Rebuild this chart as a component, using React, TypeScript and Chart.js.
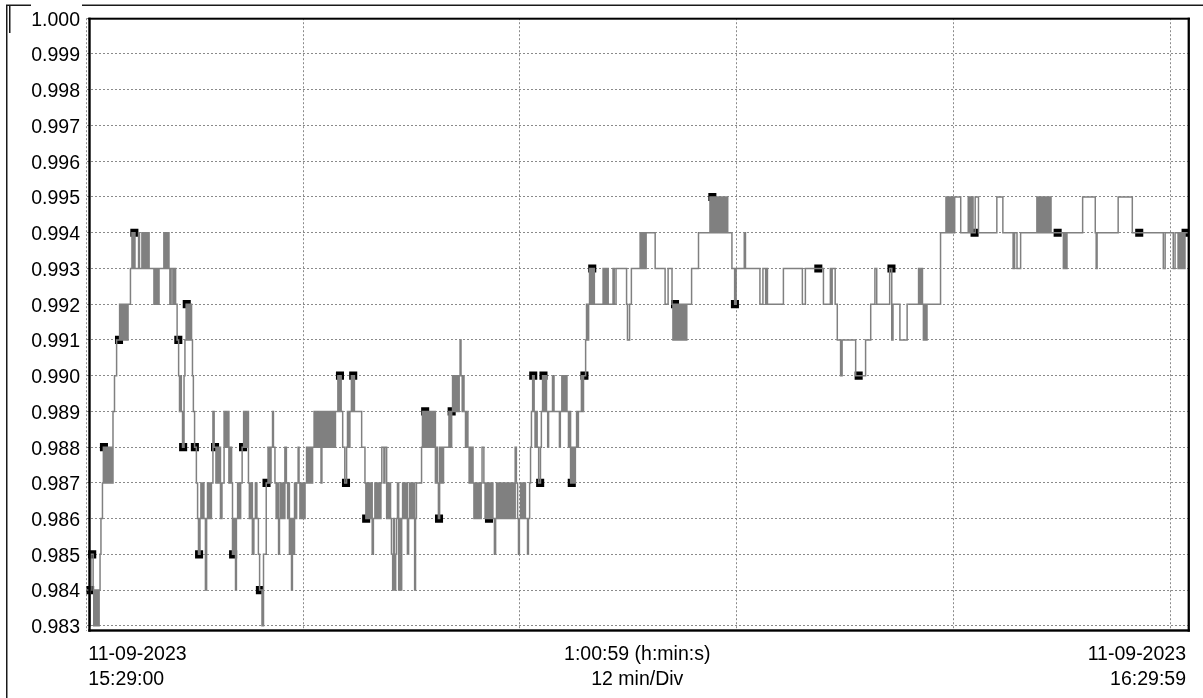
import React, { useEffect, useRef } from 'react';
import { Chart, registerables } from 'chart.js';

Chart.register(...registerables);

// seconds after 11-09-2023 15:29:00 at which the reading changes, and the new reading
const times = [
  0, 10, 12, 15, 22, 24, 27, 29, 32, 34, 37, 39, 42, 45, 48, 53, 56, 61, 65, 68, 73, 76, 81, 85, 88, 93, 100,
  110, 113, 116, 120, 123, 126, 130, 133, 138, 146, 151, 154, 158, 161, 173, 176, 184, 188, 191, 194, 198, 201, 204, 208,
  224, 228, 231, 234, 238, 241, 257, 261, 264, 267, 271, 274, 277, 281, 287, 291, 296, 301, 306, 309, 312, 315, 319,
  324, 327, 331, 334, 337, 341, 344, 349, 352, 355, 359, 365, 369, 372, 377, 380, 384, 387, 390, 395, 399,
  402, 405, 409, 412, 415, 420, 424, 430, 434, 437, 440, 445, 450, 457, 460, 463, 467, 470, 473, 478, 482, 485, 490, 495, 498,
  502, 507, 512, 517, 522, 525, 528, 532, 535, 538, 541, 546, 551, 556, 561, 566, 571, 575, 583, 588, 597,
  603, 608, 613, 618, 621, 626, 630, 633, 638, 641, 644, 648, 651, 654, 659, 664, 668, 671, 674, 678, 681, 684, 688, 691, 694, 698,
  703, 706, 709, 712, 716, 719, 722, 726, 731, 736, 741, 746, 751, 756, 759, 762, 766, 769, 772, 776, 779, 782, 787, 791, 794, 797,
  802, 807, 812, 817, 822, 827, 835, 839, 842, 846, 851, 858, 864, 867, 872, 875, 880, 883, 886, 890,
  914, 925, 928, 931, 934, 938, 941, 944, 949, 953, 958, 961, 964, 968, 971, 974, 978, 981, 988, 991, 997,
  1000, 1003, 1007, 1010, 1013, 1017, 1020, 1023, 1027, 1030, 1033, 1037, 1040, 1043, 1047, 1050, 1053, 1056, 1060, 1063, 1066,
  1070, 1073, 1076, 1080, 1083, 1086, 1090, 1093, 1096, 1113, 1116, 1119, 1123, 1126, 1129, 1133, 1136, 1139, 1143, 1146, 1149,
  1153, 1156, 1159, 1163, 1166, 1169, 1173, 1176, 1179, 1183, 1186, 1204, 1209, 1213, 1216, 1221, 1224, 1228, 1231, 1234, 1238,
  1241, 1244, 1248, 1251, 1254, 1259, 1264, 1267, 1271, 1274, 1277, 1281, 1284, 1287, 1291, 1294, 1297,
  1301, 1304, 1307, 1311, 1314, 1320, 1324, 1327, 1330, 1334, 1337, 1340, 1344, 1347, 1350, 1355, 1359, 1362, 1365, 1369, 1372, 1375,
  1379, 1382, 1385, 1389, 1392, 1395, 1399, 1402, 1405, 1409, 1412, 1415, 1419, 1424, 1428, 1432, 1435, 1438, 1442, 1445, 1448,
  1452, 1455, 1458, 1465, 1468, 1472, 1475, 1478, 1482, 1487, 1490, 1494, 1497, 1502, 1508, 1511, 1515, 1520, 1523, 1528, 1532, 1535,
  1548, 1553, 1571, 1574, 1579, 1583, 1586, 1589, 1593, 1596, 1601, 1605, 1608, 1611, 1615, 1618, 1621, 1624, 1628, 1631, 1634,
  1644, 1648, 1651, 1658, 1661, 1664, 1668, 1671, 1674, 1678, 1681, 1684, 1687, 1716, 1719, 1723, 1726, 1729, 1733, 1749, 1753, 1759,
  1794, 1797, 1804, 1810, 1839, 1842, 1845, 1849, 1852, 1855, 1859, 1889, 1922, 1932, 1945, 1948, 1952, 1957, 1960, 1964, 1967,
  1970, 1974, 1977, 1980, 1984, 1987, 1990, 1994, 2010, 2033, 2071, 2075, 2078, 2081, 2085, 2088, 2091, 2096, 2098,
  2103, 2106, 2110, 2113, 2116, 2120, 2123, 2126, 2130, 2144, 2153, 2158, 2185, 2189, 2237, 2247, 2256, 2259, 2262,
  2315, 2378, 2388, 2448, 2471, 2474, 2477, 2487, 2494, 2505, 2510, 2555, 2588, 2605, 2619, 2625, 2668, 2675, 2679,
  2702, 2726, 2764, 2769, 2772, 2777, 2780, 2784, 2787, 2792, 2837, 2855, 2859, 2862, 2865, 2869, 2872, 2875, 2879, 2884,
  2904, 2929, 2932, 2935, 2939, 2942, 2945, 2952, 2963, 3024, 3044, 3078, 3083, 3091, 3103, 3157, 3161, 3164, 3167, 3171, 3174,
  3177, 3180, 3184, 3187, 3191, 3195, 3199, 3204, 3245, 3248, 3252, 3257, 3309, 3351, 3354, 3357, 3427, 3474, 3577, 3583,
  3610, 3616, 3626, 3629, 3633, 3636, 3639, 3643, 3646, 3649, 3659,
];

const values = [
  0.984, 0.983, 0.984, 0.985, 0.984, 0.983, 0.984, 0.983, 0.984, 0.983, 0.984, 0.983, 0.984, 0.985, 0.986, 0.987, 0.988, 0.987, 0.988, 0.987, 0.988, 0.987, 0.988, 0.987, 0.989, 0.990, 0.991,
  0.992, 0.991, 0.992, 0.991, 0.992, 0.991, 0.992, 0.991, 0.992, 0.993, 0.994, 0.993, 0.994, 0.993, 0.994, 0.993, 0.994, 0.993, 0.994, 0.993, 0.994, 0.993, 0.994, 0.993,
  0.992, 0.993, 0.992, 0.993, 0.992, 0.993, 0.994, 0.993, 0.994, 0.993, 0.994, 0.993, 0.992, 0.993, 0.992, 0.993, 0.992, 0.991, 0.990, 0.989, 0.990, 0.989, 0.988,
  0.990, 0.991, 0.992, 0.991, 0.992, 0.991, 0.992, 0.991, 0.990, 0.989, 0.988, 0.987, 0.986, 0.985, 0.986, 0.987, 0.986, 0.987, 0.986, 0.984, 0.986,
  0.987, 0.986, 0.987, 0.986, 0.987, 0.989, 0.988, 0.987, 0.988, 0.987, 0.988, 0.986, 0.987, 0.989, 0.988, 0.989, 0.988, 0.989, 0.987, 0.988, 0.987, 0.985, 0.986, 0.984, 0.986,
  0.987, 0.986, 0.987, 0.988, 0.989, 0.988, 0.989, 0.988, 0.989, 0.987, 0.986, 0.987, 0.985, 0.986, 0.987, 0.986, 0.985, 0.984, 0.983, 0.985, 0.987,
  0.988, 0.987, 0.988, 0.989, 0.988, 0.987, 0.986, 0.987, 0.985, 0.986, 0.987, 0.986, 0.987, 0.986, 0.988, 0.987, 0.986, 0.987, 0.985, 0.986, 0.984, 0.986, 0.985, 0.987, 0.986, 0.987,
  0.988, 0.987, 0.986, 0.987, 0.986, 0.987, 0.986, 0.987, 0.988, 0.987, 0.988, 0.987, 0.988, 0.989, 0.988, 0.989, 0.988, 0.989, 0.988, 0.989, 0.987, 0.989, 0.988, 0.989, 0.988, 0.989,
  0.988, 0.989, 0.988, 0.989, 0.988, 0.989, 0.990, 0.989, 0.990, 0.989, 0.988, 0.987, 0.988, 0.989, 0.988, 0.989, 0.990, 0.989, 0.990, 0.989,
  0.988, 0.987, 0.986, 0.987, 0.986, 0.987, 0.986, 0.987, 0.985, 0.986, 0.987, 0.986, 0.987, 0.986, 0.987, 0.986, 0.987, 0.988, 0.987, 0.988, 0.986,
  0.987, 0.986, 0.987, 0.986, 0.985, 0.984, 0.986, 0.984, 0.985, 0.986, 0.987, 0.984, 0.986, 0.984, 0.986, 0.987, 0.986, 0.987, 0.986, 0.987, 0.985,
  0.986, 0.987, 0.986, 0.987, 0.986, 0.987, 0.984, 0.986, 0.987, 0.988, 0.989, 0.988, 0.989, 0.988, 0.989, 0.988, 0.989, 0.988, 0.989, 0.988, 0.989,
  0.988, 0.989, 0.987, 0.988, 0.987, 0.986, 0.988, 0.987, 0.988, 0.987, 0.988, 0.989, 0.988, 0.989, 0.990, 0.989, 0.990, 0.989, 0.990, 0.989, 0.990,
  0.991, 0.990, 0.989, 0.990, 0.989, 0.988, 0.989, 0.988, 0.987, 0.988, 0.987, 0.988, 0.987, 0.986, 0.987, 0.986, 0.987,
  0.986, 0.987, 0.986, 0.987, 0.988, 0.987, 0.986, 0.987, 0.986, 0.987, 0.986, 0.987, 0.986, 0.987, 0.986, 0.985, 0.986, 0.987, 0.986, 0.987, 0.986, 0.987,
  0.986, 0.987, 0.986, 0.987, 0.986, 0.987, 0.986, 0.987, 0.986, 0.987, 0.986, 0.987, 0.986, 0.988, 0.987, 0.986, 0.985, 0.986, 0.987, 0.986, 0.987,
  0.986, 0.987, 0.986, 0.985, 0.986, 0.987, 0.988, 0.989, 0.990, 0.989, 0.988, 0.989, 0.988, 0.987, 0.988, 0.989, 0.990, 0.989, 0.990, 0.989, 0.988, 0.989,
  0.990, 0.989, 0.988, 0.989, 0.990, 0.989, 0.990, 0.989, 0.990, 0.989, 0.988, 0.989, 0.987, 0.988, 0.987, 0.988, 0.987, 0.988, 0.989, 0.988, 0.989,
  0.990, 0.989, 0.990, 0.991, 0.992, 0.991, 0.992, 0.993, 0.992, 0.993, 0.992, 0.993, 0.992, 0.993, 0.992, 0.993, 0.992, 0.993, 0.992, 0.993, 0.992, 0.993,
  0.992, 0.991, 0.992, 0.993, 0.994, 0.993, 0.994, 0.993, 0.994, 0.993, 0.994, 0.993, 0.992, 0.993, 0.992, 0.991, 0.992, 0.991, 0.992, 0.991, 0.992,
  0.991, 0.992, 0.991, 0.992, 0.991, 0.992, 0.991, 0.992, 0.993, 0.994, 0.995, 0.994, 0.995, 0.994, 0.995, 0.994, 0.995, 0.994, 0.995,
  0.994, 0.995, 0.994, 0.995, 0.994, 0.995, 0.994, 0.995, 0.994, 0.993, 0.992, 0.993, 0.994, 0.993, 0.992, 0.993, 0.992, 0.993, 0.992,
  0.993, 0.992, 0.993, 0.992, 0.993, 0.992, 0.993, 0.992, 0.991, 0.990, 0.991, 0.990, 0.991, 0.992, 0.993, 0.992, 0.993, 0.991, 0.992,
  0.991, 0.992, 0.993, 0.992, 0.993, 0.992, 0.991, 0.992, 0.991, 0.992, 0.994, 0.995, 0.994, 0.995, 0.994, 0.995, 0.994, 0.995, 0.994, 0.995,
  0.994, 0.995, 0.994, 0.995, 0.994, 0.995, 0.994, 0.995, 0.994, 0.995, 0.994, 0.993, 0.994, 0.993, 0.994, 0.995, 0.994, 0.995, 0.994, 0.995, 0.994,
  0.995, 0.994, 0.995, 0.994, 0.995, 0.994, 0.995, 0.994, 0.993, 0.994, 0.993, 0.994, 0.995, 0.994, 0.993, 0.994, 0.995, 0.994, 0.993, 0.994,
  0.993, 0.994, 0.993, 0.994, 0.993, 0.994, 0.993, 0.994, 0.993, 0.994, 0.994,
];

// black square markers (seconds, reading)
const markerTimes = [12, 19, 58, 108, 159, 305, 321, 333, 360, 374, 427, 487, 520, 576, 598, 842, 862, 886, 929, 1125, 1171, 1213, 1337, 1484, 1507, 1518, 1612, 1654, 1680, 1955, 2079, 2154, 2431, 2565, 2674, 2950, 3226, 3497, 3651];
const markerValues = [0.984, 0.985, 0.988, 0.991, 0.994, 0.991, 0.988, 0.992, 0.988, 0.985, 0.988, 0.985, 0.988, 0.984, 0.987, 0.990, 0.987, 0.990, 0.986, 0.989, 0.986, 0.989, 0.986, 0.990, 0.987, 0.990, 0.987, 0.990, 0.993, 0.992, 0.995, 0.992, 0.993, 0.990, 0.993, 0.994, 0.994, 0.994, 0.994];

const yTicks = [0.983, 0.984, 0.985, 0.986, 0.987, 0.988, 0.989, 0.990, 0.991, 0.992, 0.993, 0.994, 0.995, 0.996, 0.997, 0.998, 0.999, 1.0];
const xGridSeconds = [0, 720, 1440, 2160, 2880, 3600];
const startLabel = ['11-09-2023', '15:29:00'];
const middleLabel = ['1:00:59 (h:min:s)', '12 min/Div'];
const endLabel = ['11-09-2023', '16:29:59'];

const FONT = "'Liberation Sans', Arial, sans-serif";
const FONT_SIZE = 19.5;

const framePlugin = {
  id: 'framePlugin',
  afterDraw(chart: any) {
    const { ctx, chartArea: a } = chart;
    ctx.save();
    // outer panel lines
    ctx.strokeStyle = '#1a1a1a';
    ctx.lineWidth = 1.5;
    ctx.beginPath();
    ctx.moveTo(6.75, 4.5);
    ctx.lineTo(6.75, 698);
    ctx.moveTo(9.75, 4.5);
    ctx.lineTo(9.75, 33);
    ctx.moveTo(6, 5.25);
    ctx.lineTo(31, 5.25);
    ctx.moveTo(82, 5.25);
    ctx.lineTo(1203, 5.25);
    ctx.stroke();
    // plot border
    ctx.fillStyle = '#000';
    const l = a.left + 1.8;
    const r = a.right + 1.9;
    const t = a.top - 0.5;
    const b = a.bottom + 1.2;
    ctx.fillRect(l, t, 2.4, b - t);
    ctx.fillRect(l, t, r - l, 2);
    ctx.fillRect(r - 2.3, t, 2.3, b - t);
    ctx.fillRect(l, b - 2.4, r - l, 2.4);
    // x axis labels
    ctx.font = `${FONT_SIZE}px ${FONT}`;
    ctx.fillStyle = '#000';
    ctx.textBaseline = 'middle';
    const rows = [a.bottom + 24, a.bottom + 49];
    ctx.textAlign = 'left';
    startLabel.forEach((s, i) => ctx.fillText(s, a.left + 1.8, rows[i]));
    ctx.textAlign = 'center';
    middleLabel.forEach((s, i) => ctx.fillText(s, (a.left + a.right) / 2, rows[i]));
    ctx.textAlign = 'right';
    endLabel.forEach((s, i) => ctx.fillText(s, a.right - 2, rows[i]));
    ctx.restore();
  },
};

export default function App() {
  const canvasRef = useRef<HTMLCanvasElement | null>(null);

  useEffect(() => {
    if (!canvasRef.current) return;
    const lineData = times.map((t, i) => ({ x: t, y: values[i] }));
    const markerData = markerTimes.map((t, i) => ({ x: t, y: markerValues[i] }));
    const chart = new Chart(canvasRef.current, {
      type: 'line',
      data: {
        datasets: [
          {
            data: lineData,
            borderColor: '#808080',
            borderWidth: 1.5,
            pointRadius: 0,
            stepped: true,
            fill: false,
            order: 0,
          },
          {
            data: markerData,
            showLine: false,
            pointStyle: 'rect',
            pointRadius: 5.7,
            pointBackgroundColor: '#000',
            pointBorderColor: '#000',
            pointBorderWidth: 0,
            order: 1,
          },
        ],
      },
      options: {
        responsive: false,
        animation: false,
        devicePixelRatio: 1,
        layout: { padding: { left: 0, right: 15, top: 16, bottom: 0 } },
        plugins: { legend: { display: false }, tooltip: { enabled: false } },
        scales: {
          x: {
            type: 'linear',
            min: 0,
            max: 3659,
            ticks: { display: false },
            grid: { color: '#8a8a8a', lineWidth: 1, drawTicks: false },
            border: { display: false, dash: [2, 2] },
            afterBuildTicks: (s: any) => {
              s.ticks = xGridSeconds.map((v) => ({ value: v }));
            },
            afterFit: (s: any) => {
              s.height = 67.5;
            },
          },
          y: {
            type: 'linear',
            min: 0.98287,
            max: 1.0,
            ticks: {
              color: '#000',
              font: { family: FONT, size: FONT_SIZE },
              padding: 6.5,
              labelOffset: 2,
              autoSkip: false,
              callback: (v: any) => Number(v).toFixed(3),
            },
            grid: { color: '#8a8a8a', lineWidth: 1, drawTicks: false },
            border: { display: false, dash: [2, 2] },
            afterBuildTicks: (s: any) => {
              s.ticks = yTicks.map((v) => ({ value: v }));
            },
            afterFit: (s: any) => {
              s.width = 86.5;
            },
          },
        },
      },
      plugins: [framePlugin],
    } as any);
    return () => chart.destroy();
  }, []);

  return (
    <div style={{ position: 'absolute', left: 0, top: 0, width: 1203, height: 698, background: '#fff' }}>
      <canvas ref={canvasRef} width={1203} height={698} style={{ display: 'block' }} />
    </div>
  );
}
